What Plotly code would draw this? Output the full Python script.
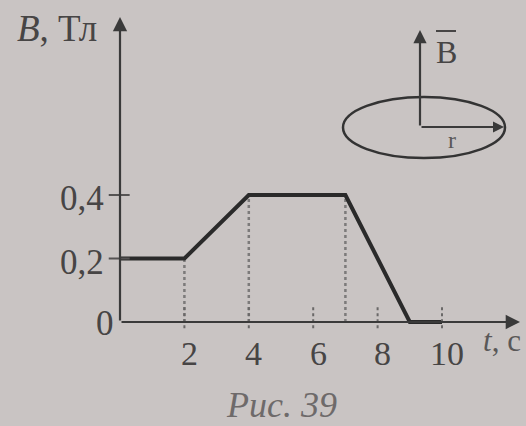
import plotly.graph_objects as go

# ---- data ----
t_vals = [0, 2, 4, 7, 9, 10]          # time, s
b_vals = [0.2, 0.2, 0.4, 0.4, 0, 0]   # induction, T
x_ticks = [2, 4, 6, 8, 10]
x_tick_labels = ["2", "4", "6", "8", "10"]
y_ticks = [0.2, 0.4]
y_tick_labels = ["0,2", "0,4"]
dash_t = [2, 4, 7]                    # dashed drop lines

BG = "#c9c4c3"
INK = "#2a2a2a"
TXT = "#474545"
SERIF = "Liberation Serif, DejaVu Serif, serif"

W, H = 526, 426
X0PIX, XSCALE = 120, 32.2
Y0PIX, YSCALE = 322, 317.5
xr = [-X0PIX / XSCALE, (W - X0PIX) / XSCALE]
yr = [-(H - Y0PIX) / YSCALE, Y0PIX / YSCALE]

fig = go.Figure()

# dashed verticals from the curve down to the axis
for tv in dash_t:
    bv = b_vals[t_vals.index(tv)]
    fig.add_trace(go.Scatter(x=[tv, tv], y=[0, bv], mode="lines",
                             line=dict(color="#7c7a7a", width=2.5, dash="dot"),
                             hoverinfo="skip", showlegend=False))

# main curve
fig.add_trace(go.Scatter(x=t_vals, y=b_vals, mode="lines",
                         line=dict(color=INK, width=4),
                         hoverinfo="skip", showlegend=False))

shapes = []
annotations = []


def txt(x, y, text, size, color=TXT, ref="paper"):
    return dict(x=x, y=y, xref=ref if ref == "paper" else "x",
                yref=ref if ref == "paper" else "y", text=text, showarrow=False,
                xanchor="center", yanchor="middle",
                font=dict(family=SERIF, size=size, color=color))


# axes with arrows (data coordinates)
x_end = (520 - X0PIX) / XSCALE
y_end = (Y0PIX - 17) / YSCALE
for hx, hy in [(x_end, 0), (0, y_end)]:
    annotations.append(dict(x=hx, y=hy, ax=0, ay=0, xref="x", yref="y",
                            axref="x", ayref="y", showarrow=True, arrowhead=2,
                            arrowsize=1.3, arrowwidth=2.2, arrowcolor="#3a3a3a", text=""))

# x ticks and labels
for tv, lab in zip(x_ticks, x_tick_labels):
    shapes.append(dict(type="line", xref="x", yref="y", x0=tv, x1=tv, y0=-0.02, y1=0.05,
                       line=dict(color="#6a6868", width=2, dash="dot")))
    annotations.append(txt(tv + 0.15, -0.098, lab, 34, ref="data"))

# y ticks and labels
for bv, lab in zip(y_ticks, y_tick_labels):
    shapes.append(dict(type="line", xref="x", yref="y", x0=-0.35, x1=0.3, y0=bv, y1=bv,
                       line=dict(color="#555353", width=2)))
    a = txt(-0.45, bv - 0.012, lab, 35, ref="data")
    a["xanchor"] = "right"
    annotations.append(a)
a = txt(-0.12, -0.005, "0", 35, ref="data")
a["xanchor"] = "right"
annotations.append(a)

# axis titles
annotations.append(txt(57 / W, 1 - 29 / H, "<i>B</i>, Тл", 37))
annotations.append(txt(502 / W, 1 - 340 / H, "<i>t</i>, с", 31, color="#5a5858"))

# caption
annotations.append(txt(281 / W, 1 - 405 / H, "<i>Рис. 39</i>", 36, color="#6e6a6a"))

# inset: ring with B vector and radius
shapes.append(dict(type="circle", xref="paper", yref="paper",
                   x0=343 / W, x1=505 / W, y0=1 - 158 / H, y1=1 - 97 / H,
                   line=dict(color="#333", width=2.5)))
annotations.append(dict(x=420 / W, y=1 - 30 / H, xref="paper", yref="paper",
                        ax=0, ay=97, showarrow=True, arrowhead=2, arrowsize=1.2,
                        arrowwidth=2.2, arrowcolor="#3a3a3a", text=""))
annotations.append(dict(x=504 / W, y=1 - 127 / H, xref="paper", yref="paper",
                        ax=-84, ay=0, showarrow=True, arrowhead=2, arrowsize=1.1,
                        arrowwidth=2, arrowcolor="#3a3a3a", text=""))
annotations.append(txt(446 / W, 1 - 52 / H, "B", 32))
shapes.append(dict(type="line", xref="paper", yref="paper",
                   x0=436 / W, x1=456 / W, y0=1 - 31 / H, y1=1 - 31 / H,
                   line=dict(color=TXT, width=2)))
annotations.append(txt(452 / W, 1 - 140 / H, "r", 24, color="#5a5858"))

fig.update_layout(
    width=W, height=H, margin=dict(l=0, r=0, t=0, b=0),
    paper_bgcolor=BG, plot_bgcolor=BG,
    xaxis=dict(range=xr, visible=False, fixedrange=True),
    yaxis=dict(range=yr, visible=False, fixedrange=True),
    shapes=shapes, annotations=annotations,
)

fig.write_html("out.html", config={"displayModeBar": False},
               post_script="document.body.style.margin='0';")
